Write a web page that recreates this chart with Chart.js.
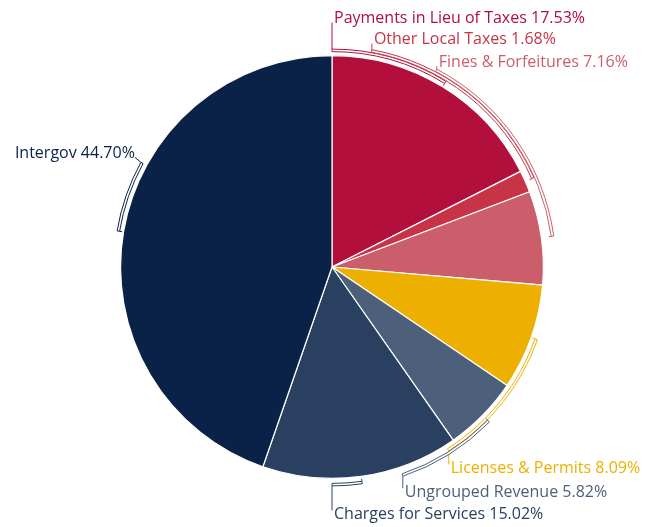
<!DOCTYPE html>
<html>
<head>
<meta charset="utf-8">
<script src="https://cdn.jsdelivr.net/npm/chart.js@4"></script>
<style>
  html, body { margin: 0; padding: 0; background: #fff; }
  #wrap { width: 660px; height: 527px; position: relative; }
</style>
</head>
<body>
<div id="wrap"><canvas id="pie-chart"></canvas></div>
<script>
const categories = ["Payments in Lieu of Taxes", "Other Local Taxes", "Fines & Forfeitures",
  "Licenses & Permits", "Ungrouped Revenue", "Charges for Services", "Intergov"];
const shares = [17.53, 1.68, 7.16, 8.09, 5.82, 15.02, 44.70];
const colors = ["#b20f3c", "#c73447", "#cc5e6b", "#eeb000", "#4c5f7b", "#2a4061", "#0b2248"];

// where each label bracket ends (clock degrees), how far out the bracket sits, leader offset
const labelLayout = [
  { deg: 0, ring: 4, dx: 0, dy: -26.5 },
  { deg: 10.4, ring: 7, dx: 0, dy: -6 },
  { deg: 27.9, ring: 10, dx: 0, dy: -3 },
  { deg: 147.6, ring: 4, dx: 0, dy: 13.5 },
  { deg: 161.3, ring: 7, dx: 0, dy: 12 },
  { deg: 180, ring: 5, dx: 0, dy: 24.5 },
  { deg: 298.7, ring: 4, dx: -6, dy: -5 },
];

const bracketLabels = {
  id: "bracketLabels",
  afterDatasetsDraw(chart) {
    const ctx = chart.ctx;
    const arcs = chart.getDatasetMeta(0).data;
    ctx.save();
    ctx.font = "16px 'Open Sans'";
    ctx.textBaseline = "middle";
    arcs.forEach((arc, i) => {
      const lay = labelLayout[i];
      const { x, y, outerRadius, startAngle, endAngle } = arc.getProps(["x", "y", "outerRadius", "startAngle", "endAngle"], true);
      const mid = (startAngle + endAngle) / 2;
      const anc = lay.deg * Math.PI / 180 - Math.PI / 2;
      const rIn = outerRadius + lay.ring;
      const rOut = rIn + 2.5;
      const a1 = Math.min(mid, anc), a2 = Math.max(mid, anc);
      ctx.strokeStyle = colors[i];
      ctx.lineWidth = 1;
      ctx.fillStyle = "#fff";
      ctx.beginPath();
      ctx.arc(x, y, rOut, a1, a2);
      ctx.arc(x, y, rIn, a2, a1, true);
      ctx.closePath();
      ctx.fill();
      ctx.stroke();
      // small tick toward the slice
      ctx.beginPath();
      ctx.moveTo(x + Math.cos(mid) * rIn, y + Math.sin(mid) * rIn);
      ctx.lineTo(x + Math.cos(mid) * (rIn - 2.5), y + Math.sin(mid) * (rIn - 2.5));
      ctx.stroke();
      // leader
      const ax = x + Math.cos(anc) * rOut, ay = y + Math.sin(anc) * rOut;
      const ex = ax + lay.dx, ey = ay + lay.dy;
      ctx.beginPath();
      ctx.moveTo(ax, ay);
      ctx.lineTo(ex, ey);
      ctx.stroke();
      const txt = categories[i] + " " + shares[i].toFixed(2) + "%";
      ctx.fillStyle = colors[i];
      ctx.textAlign = lay.dx < 0 ? "right" : "left";
      ctx.fillText(txt, ex + (lay.dx < 0 ? 0 : 2), ey + (lay.dy < 0 ? -4 : 4));
    });
    ctx.restore();
  }
};

const config_pie = {
  type: "pie",
  data: {
    labels: categories,
    datasets: [{
      data: shares,
      backgroundColor: colors,
      borderColor: "#ffffff",
      borderWidth: 1.2,
    }],
  },
  options: {
    responsive: true,
    maintainAspectRatio: false,
    animation: false,
    layout: { padding: { top: 55, bottom: 48, left: 20, right: 16 } },
    plugins: {
      legend: { display: false },
      tooltip: { enabled: false },
    },
  },
  plugins: [bracketLabels],
};

var ctx_pie = document.getElementById("pie-chart").getContext("2d");
var myChart_pie = new Chart(ctx_pie, config_pie);
</script>
</body>
</html>
